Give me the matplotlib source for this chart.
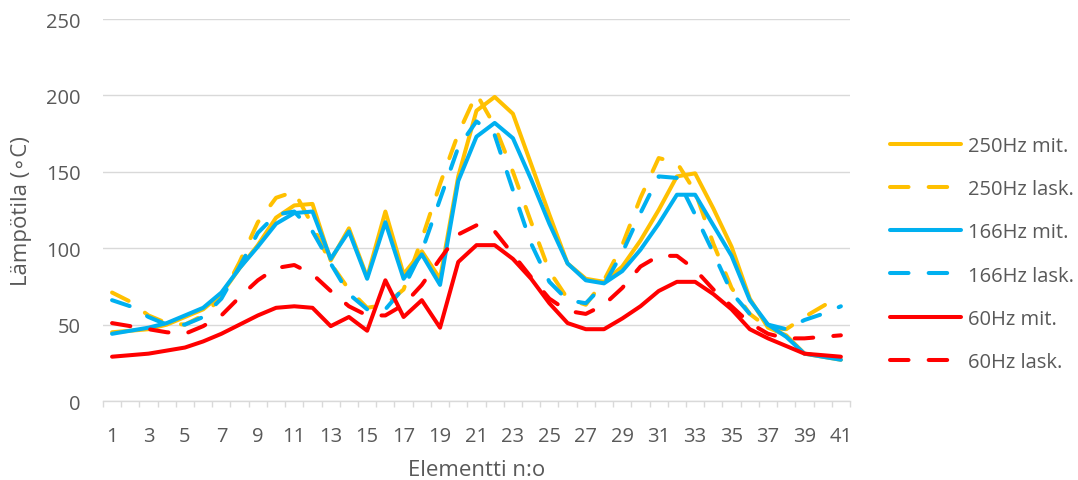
import numpy as np
import matplotlib
matplotlib.use("Agg")
import matplotlib.pyplot as plt

# Daten
elementit = list(range(1, 42))

mit_250 = [45, 46, 47, 50, 55, 60, 70, 87, 102, 120, 128, 129, 92, 113, 81, 124, 83, 98, 80, 147,
           190, 199, 188, 155, 122, 90, 80, 78, 88, 105, 125, 147, 149, 126, 101, 67, 48, 43, 31, 29, 27]
lask_250 = [71, 65, 56, 51, 50, 56, 68, 91, 117, 133, 137, 115, 90, 73, 61, 63, 73, 106, 142, 175,
            201, 180, 150, 117, 85, 67, 63, 79, 102, 133, 159, 156, 137, 103, 74, 57, 48, 47, 55, 62, 69]
mit_166 = [44, 46, 48, 51, 56, 61, 71, 87, 101, 116, 123, 124, 93, 111, 80, 117, 80, 96, 76, 144,
           173, 182, 172, 145, 116, 90, 79, 77, 85, 99, 116, 135, 135, 115, 95, 66, 50, 42, 31, 29, 27]
lask_166 = [66, 62, 55, 50, 50, 55, 67, 88, 110, 122, 124, 111, 90, 70, 60, 60, 74, 98, 132, 166,
            183, 174, 138, 103, 78, 66, 64, 76, 97, 123, 147, 146, 122, 97, 71, 57, 50, 47, 53, 57, 62]
mit_60 = [29, 30, 31, 33, 35, 39, 44, 50, 56, 61, 62, 61, 49, 55, 46, 79, 55, 66, 48, 91,
          102, 102, 93, 80, 64, 51, 47, 47, 54, 62, 72, 78, 78, 70, 60, 47, 41, 36, 31, 30, 29]
lask_60 = [51, 49, 47, 45, 44, 49, 56, 68, 79, 87, 89, 83, 72, 62, 56, 56, 63, 76, 93, 109,
           115, 111, 96, 81, 67, 59, 57, 63, 74, 88, 95, 95, 86, 73, 62, 51, 44, 41, 41, 42, 43]

sarjat = [
    (mit_250, "250Hz mit.", "#FFC000", "-"),
    (lask_250, "250Hz lask.", "#FFC000", "--"),
    (mit_166, "166Hz mit.", "#00B0F0", "-"),
    (lask_166, "166Hz lask.", "#00B0F0", "--"),
    (mit_60, "60Hz mit.", "#FF0000", "-"),
    (lask_60, "60Hz lask.", "#FF0000", "--"),
]

tekstivari = "#595959"
harmaa = "#D9D9D9"
plt.rcParams['font.family'] = ['Open Sans', 'DejaVu Sans']

fig = plt.figure(figsize=(10.78, 4.81), dpi=100)
ax = fig.add_axes([0.0955, 0.1642, 0.693, 0.7942])

# Viivat
for arvot, nimi, vari, tyyli in sarjat:
    if tyyli == "--":
        ax.plot(elementit, arvot, color=vari, lw=2.9, label=nimi,
                linestyle=(0, (4.6, 5.0)), dash_capstyle='round', solid_joinstyle='round')
    else:
        ax.plot(elementit, arvot, color=vari, lw=2.9, label=nimi,
                solid_capstyle='round', solid_joinstyle='round')

# Akselit
ax.set_xlim(0.5, 41.5)
ax.set_ylim(0, 250)
ax.set_yticks(np.arange(0, 251, 50))
ax.set_xticks(elementit[::2])
ax.set_xticks(np.arange(0.5, 42, 1), minor=True)
ax.grid(axis='y', color=harmaa, lw=1.0)
ax.set_axisbelow(True)
for s in ['top', 'right', 'left']:
    ax.spines[s].set_visible(False)
ax.spines['bottom'].set_color(harmaa)
ax.spines['bottom'].set_linewidth(1.0)
ax.tick_params(axis='y', length=0, pad=16, colors=tekstivari, labelsize=14.5)
ax.tick_params(axis='x', which='major', length=0, pad=18, colors=tekstivari, labelsize=14.5)
ax.tick_params(axis='x', which='minor', length=4, width=1.0, color=harmaa)

ax.set_xlabel("Elementti n:o", color=tekstivari, fontsize=16, labelpad=9)
ax.set_ylabel("Lämpötila (∘C)", color=tekstivari, fontsize=16, labelpad=10)

# Selite
fig.legend(loc='center left', bbox_to_anchor=(0.826, 0.47), frameon=False,
           borderaxespad=0, borderpad=0, handlelength=3.5, handletextpad=0.35,
           labelspacing=1.15, labelcolor=tekstivari, fontsize=14.5)

fig.savefig("out.png", dpi=100)
